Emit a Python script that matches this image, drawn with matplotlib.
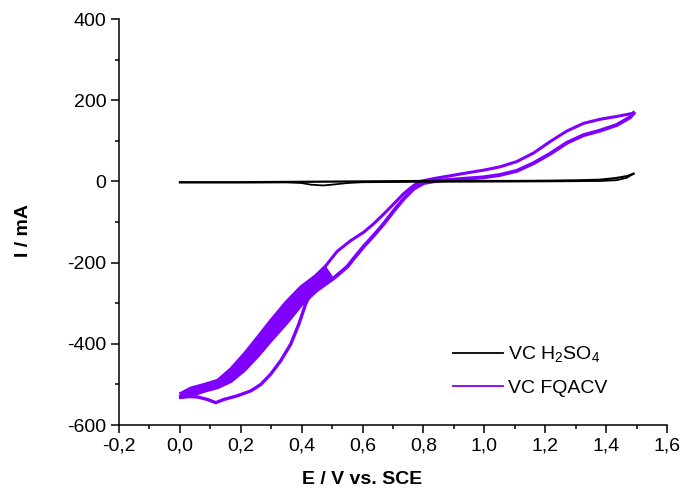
import matplotlib
matplotlib.use("Agg")
import matplotlib.pyplot as plt
from matplotlib.lines import Line2D
import numpy as np

plt.rcParams['font.family'] = ['Liberation Sans', 'DejaVu Sans']
plt.rcParams['mathtext.fontset'] = 'custom'
plt.rcParams['mathtext.rm'] = 'Liberation Sans'
plt.rcParams['axes.unicode_minus'] = False

# ---------------- data (E / V vs SCE, I / mA) ----------------
# FQACV: forward (anodic) scan, 0 -> 1.5 V (upper edge of cycle band)
fq_fwd_x = [0.003, 0.036, 0.080, 0.124, 0.167, 0.211, 0.255, 0.298, 0.348, 0.397,
            0.446, 0.479, 0.500, 0.517, 0.561, 0.604, 0.637, 0.670, 0.703, 0.735,
            0.768, 0.790, 0.834, 0.889, 0.943, 1.000, 1.052, 1.107, 1.162, 1.216,
            1.271, 1.326, 1.380, 1.435, 1.490]
fq_fwd_y = [-522, -509, -500, -490, -462, -425, -384, -343, -298, -260,
            -232, -208, -188, -172, -146, -125, -104, -80, -55, -30,
            -10, 0, 7, 14, 21, 28, 36, 49, 70, 98,
            124, 143, 153, 160, 168]
# FQACV: reverse (cathodic) scan, 1.5 -> 0 V (lower edge of cycle band)
fq_rev_x = [1.490, 1.479, 1.435, 1.380, 1.326, 1.271, 1.216, 1.162, 1.107, 1.052,
            0.998, 0.943, 0.889, 0.840, 0.801, 0.768, 0.735, 0.703, 0.670, 0.637,
            0.604, 0.571, 0.550, 0.506, 0.446, 0.397, 0.348, 0.298, 0.255, 0.211,
            0.167, 0.124, 0.080, 0.036, 0.003]
fq_rev_y = [168, 158, 139, 125, 114, 95, 68, 45, 26, 16,
            10, 7, 4, 1, -4, -18, -43, -72, -104, -133,
            -160, -190, -210, -238, -270, -305, -350, -392, -430, -465,
            -492, -507, -516, -527, -530]
# FQACV: first-cycle branch (thin outer loop)
fq_first_x = [0.003, 0.030, 0.058, 0.090, 0.118, 0.145, 0.189, 0.233, 0.266, 0.298,
              0.331, 0.364, 0.391, 0.413, 0.430, 0.451]
fq_first_y = [-532, -530, -531, -537, -545, -537, -528, -516, -500, -475,
              -442, -401, -351, -302, -275, -250]

# H2SO4 blank: forward and reverse scans
h2_fwd_x = [0.0, 0.1, 0.2, 0.3, 0.4, 0.5, 0.6, 0.7, 0.8, 0.9, 1.0, 1.1, 1.2, 1.3,
            1.38, 1.43, 1.47, 1.49]
h2_fwd_y = [-2, -2, -2, -1.5, -1, -0.5, 0, 0.5, 1, 1, 1, 1, 1.5, 2.5,
            4, 8, 13, 19]
h2_rev_x = [1.49, 1.468, 1.435, 1.38, 1.2, 1.0, 0.8, 0.6, 0.55, 0.5, 0.47, 0.43,
            0.4, 0.35, 0.2, 0.0]
h2_rev_y = [19, 9, 3, 1, 0, -0.5, -1, -2, -4, -8, -10, -8,
            -4, -2.5, -2.5, -2.5]

x_ticks = [-0.2, 0.0, 0.2, 0.4, 0.6, 0.8, 1.0, 1.2, 1.4, 1.6]
x_tick_labels = ['-0,2', '0,0', '0,2', '0,4', '0,6', '0,8', '1,0', '1,2', '1,4', '1,6']
y_ticks = [-600, -400, -200, 0, 200, 400]
y_tick_labels = ['-600', '-400', '-200', '0', '200', '400']
legend_labels = ['VC H$_\\mathregular{2}$SO$_\\mathregular{4}$', 'VC FQACV']

purple = '#7f00ff'

fig = plt.figure(figsize=(6.81, 4.97), dpi=100)
ax = fig.add_axes([119/681, 1-425/497, (667-119)/681, (425-19)/497])

# band of repeated cycles (between forward and reverse edges, low potentials)
fx = np.array(fq_fwd_x); fy = np.array(fq_fwd_y)
rx = np.array(fq_rev_x); ry = np.array(fq_rev_y)
mf = fx <= 0.48
mr = rx <= 0.51
poly_x = np.concatenate([fx[mf], rx[mr]])
poly_y = np.concatenate([fy[mf], ry[mr]])
ax.fill(poly_x, poly_y, color=purple, lw=0, zorder=2)

ax.plot(fq_fwd_x, fq_fwd_y, color=purple, lw=2.2, zorder=3, solid_joinstyle='round')
ax.plot(fq_rev_x, fq_rev_y, color=purple, lw=2.8, zorder=3, solid_joinstyle='round')
ax.plot(fq_first_x, fq_first_y, color=purple, lw=2.4, zorder=3, solid_joinstyle='round')

ax.plot(h2_fwd_x, h2_fwd_y, color='black', lw=1.6, zorder=4)
ax.plot(h2_rev_x, h2_rev_y, color='black', lw=1.3, zorder=4)

ax.set_xlim(-0.2, 1.6)
ax.set_ylim(-600, 400)
ax.set_xticks(x_ticks)
ax.set_xticklabels(x_tick_labels)
ax.set_yticks(y_ticks)
ax.set_yticklabels(y_tick_labels)
ax.set_xticks(np.array(x_ticks[:-1]) + 0.1, minor=True)
ax.set_yticks(np.array(y_ticks[:-1]) + 100, minor=True)

for s in ['top', 'right']:
    ax.spines[s].set_visible(False)
for s in ['left', 'bottom']:
    ax.spines[s].set_linewidth(1.1)

ax.tick_params(which='major', direction='out', length=6, width=1.1, labelsize=14, pad=3)
ax.tick_params(which='minor', direction='out', length=3, width=1.1)

ax.set_xlabel('E / V vs. SCE', fontsize=14, fontweight='bold')
ax.set_ylabel('I / mA', fontsize=14, fontweight='bold')
ax.xaxis.set_label_coords(0.443, -0.113)
ax.yaxis.set_label_coords(-0.158, 0.48)

handles = [Line2D([], [], color='black', lw=1.3), Line2D([], [], color=purple, lw=1.3)]
ax.legend(handles, legend_labels, loc='upper left', bbox_to_anchor=(0.610, 0.198),
          frameon=False, fontsize=14, handlelength=2.57, handletextpad=0.26,
          labelspacing=0.76, borderpad=0, borderaxespad=0)

fig.savefig('out.png', dpi=100)
